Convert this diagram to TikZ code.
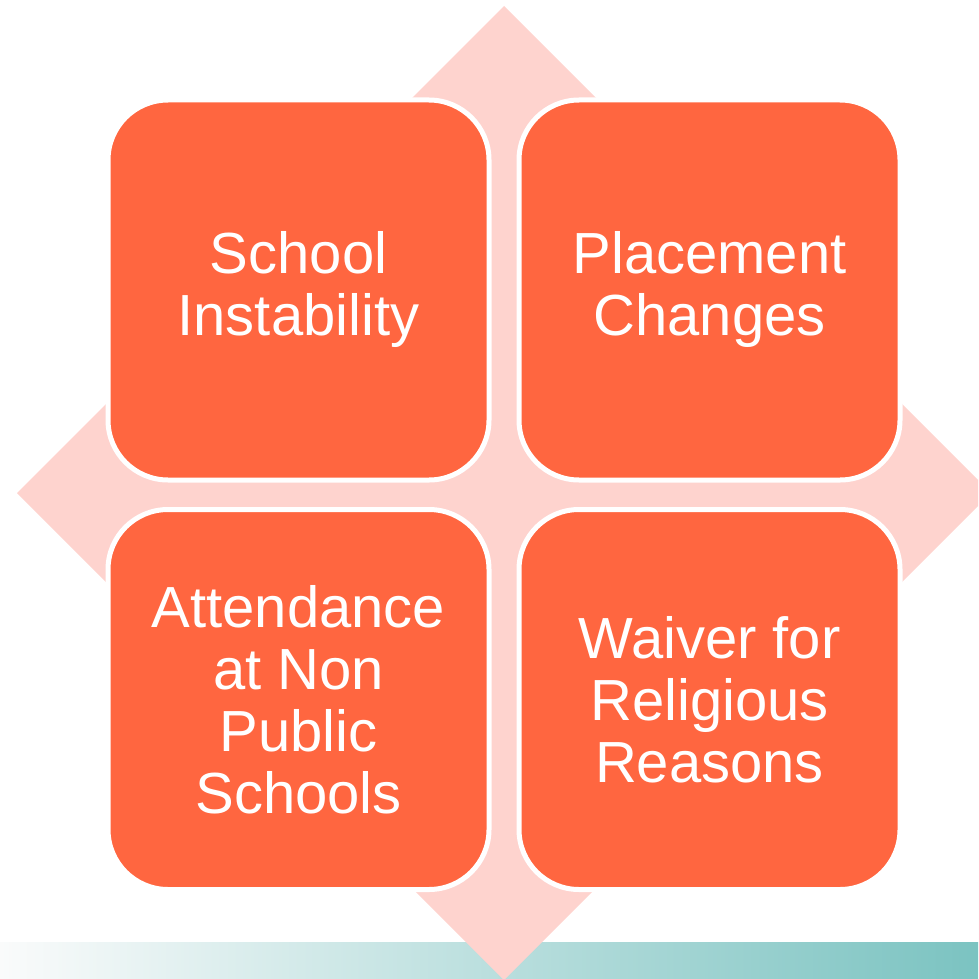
\documentclass[tikz,border=0pt]{standalone}
\usepackage{fontspec}
\setmainfont{Liberation Sans}
\definecolor{boxorange}{RGB}{255,102,64}
\definecolor{diapink}{RGB}{254,211,206}
\definecolor{barteal}{RGB}{123,195,193}
\definecolor{barwhite}{RGB}{250,251,251}
\begin{document}
\begin{tikzpicture}[x=1pt,y=-1pt,
  box/.style={draw=white, line width=5pt, fill=boxorange, rounded corners=60pt,
    minimum width=381pt, minimum height=380pt, inner sep=0pt,
    text=white, align=center, font=\fontsize{58}{62}\selectfont}]
\useasboundingbox (0,0) rectangle (978,979);
\clip (0,0) rectangle (978,979);
\shade[left color=barwhite, right color=barteal] (0,942) rectangle (978,979);
\fill[diapink] (504,6) -- (991,493) -- (504,980) -- (17,493) -- cycle;
\node[box] (tl) at (298.5,290) {School\\Instability};
\node[box] (tr) at (709.5,290) {Placement\\Changes};
\node[box] (bl) at (298.5,699.5) {Attendance\\at Non\\Public\\Schools};
\node[box] (br) at (709.5,699.5) {Waiver for\\Religious\\Reasons};
\end{tikzpicture}
\end{document}
